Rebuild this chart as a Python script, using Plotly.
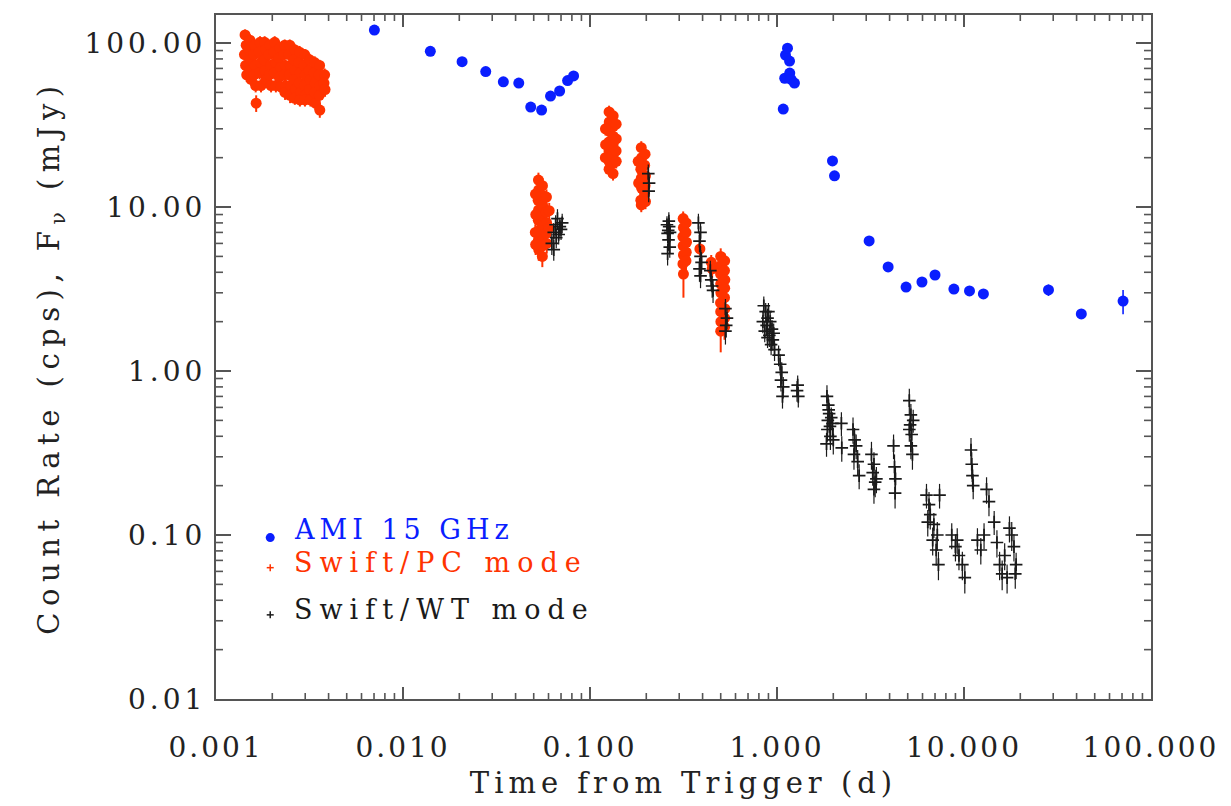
import plotly.graph_objects as go

# ---------------------------------------------------------------------------
# AMI 15 GHz radio light curve: (time since trigger [d], flux density [mJy], 1-sigma error)
ami_points = [
    (0.00703, 120, 3), (0.0140, 89, 2.5), (0.0207, 77, 2), (0.0277, 67, 2),
    (0.0344, 58, 2), (0.0416, 57, 2), (0.0482, 40.7, 1.5), (0.0551, 39, 1.5),
    (0.0615, 47.5, 1.5), (0.0688, 51, 1.5), (0.0759, 59, 2), (0.0817, 63, 2),
    (1.08, 39.6, 1.5), (1.10, 61, 2), (1.11, 84.5, 3), (1.138, 93, 3),
    (1.167, 77.6, 3), (1.17, 65.6, 2), (1.19, 60, 2), (1.24, 57, 2),
    (1.98, 19.1, 0.8), (2.03, 15.5, 0.7), (3.11, 6.21, 0.3), (3.93, 4.31, 0.25),
    (4.90, 3.25, 0.2), (5.96, 3.49, 0.2), (7.0, 3.85, 0.2), (8.83, 3.16, 0.2),
    (10.7, 3.08, 0.2), (12.7, 2.95, 0.2), (28.3, 3.12, 0.25), (42.4, 2.23, 0.15),
    (70.9, 2.67, 0.45),
]

# Swift XRT photon-counting mode: (time [d], count rate [cps], error), one list per orbit
pc_orbit1 = [
    (0.00143, 112, 9), (0.00145, 97, 8), (0.00142, 85, 7), (0.00144, 73, 6), (0.00146, 64, 6),
    (0.00152, 104, 9), (0.00150, 91, 8), (0.00153, 79, 7), (0.00151, 68, 6), (0.00154, 60, 5),
    (0.00161, 97, 8), (0.00159, 85, 7), (0.00162, 73, 6), (0.00160, 64, 6), (0.00163, 55, 5), (0.00164, 43, 5),
    (0.00172, 101, 9), (0.00170, 88, 8), (0.00173, 76, 7), (0.00171, 66, 6), (0.00174, 55, 5),
    (0.00182, 101, 9), (0.00184, 91, 8), (0.00181, 79, 7), (0.00183, 68, 6), (0.00185, 60, 5),
    (0.00194, 97, 8), (0.00192, 85, 7), (0.00196, 73, 6), (0.00193, 64, 6), (0.00197, 55, 5),
    (0.00206, 101, 9), (0.00204, 88, 8), (0.00208, 76, 7), (0.00205, 66, 6), (0.00209, 55, 5),
    (0.00219, 93, 8), (0.00217, 81, 7), (0.00221, 71, 6), (0.00218, 62, 6), (0.00222, 54, 5),
    (0.00233, 97, 8), (0.00231, 85, 7), (0.00235, 73, 6), (0.00232, 64, 6), (0.00236, 55, 5), (0.00234, 50, 5),
    (0.00248, 97, 8), (0.00246, 85, 7), (0.00250, 73, 6), (0.00247, 64, 6), (0.00251, 55, 5), (0.00249, 48, 5),
    (0.00263, 91, 8), (0.00261, 79, 7), (0.00265, 68, 6), (0.00262, 60, 5), (0.00266, 52, 5), (0.00264, 46, 4),
    (0.00280, 88, 8), (0.00278, 76, 7), (0.00282, 66, 6), (0.00279, 57, 5), (0.00283, 50, 5), (0.00281, 45, 4),
    (0.00298, 85, 7), (0.00296, 73, 6), (0.00300, 64, 6), (0.00297, 55, 5), (0.00301, 48, 5), (0.00299, 45, 4),
    (0.00317, 79, 7), (0.00315, 68, 6), (0.00319, 60, 5), (0.00316, 52, 5), (0.00320, 45, 4),
    (0.00337, 76, 7), (0.00335, 66, 6), (0.00339, 57, 5), (0.00336, 50, 5), (0.00340, 43, 4),
    (0.00358, 73, 6), (0.00356, 64, 6), (0.00360, 55, 5), (0.00357, 48, 5), (0.00359, 39, 4),
    (0.00381, 64, 6), (0.00378, 57, 5), (0.00383, 52, 5),
]
pc_orbit2 = [
    (0.0530, 14.6, 1.6), (0.0532, 12.7, 1.4), (0.0528, 11.0, 1.2), (0.0531, 9.6, 1.1),
    (0.0529, 8.3, 1.0), (0.0533, 7.2, 0.9), (0.0530, 6.3, 0.8), (0.0532, 5.5, 0.8),
    (0.0557, 13.5, 1.5), (0.0555, 11.8, 1.3), (0.0558, 10.2, 1.1), (0.0556, 8.9, 1.0),
    (0.0559, 7.7, 0.9), (0.0555, 6.7, 0.8), (0.0557, 5.8, 0.8), (0.0556, 5.0, 0.7),
    (0.0511, 12.0, 1.3), (0.0513, 9.0, 1.0), (0.0510, 7.0, 0.8), (0.0512, 5.9, 0.8),
    (0.0585, 11.5, 1.3), (0.0583, 9.3, 1.0), (0.0586, 8.0, 0.9), (0.0584, 6.9, 0.8),
    (0.0587, 6.0, 0.8), (0.0605, 9.5, 1.1), (0.0603, 7.5, 0.9),
]
pc_orbit3 = [
    (0.1265, 38, 3.5), (0.1268, 33, 3), (0.1263, 29, 2.6), (0.1266, 25, 2.3),
    (0.1264, 22, 2), (0.1267, 19, 1.8), (0.1265, 17, 1.6),
    (0.1330, 36, 3.3), (0.1328, 31, 2.8), (0.1332, 27, 2.5), (0.1329, 24, 2.2),
    (0.1331, 21, 1.9), (0.1330, 18.5, 1.7), (0.1328, 16, 1.5),
    (0.1210, 30, 2.7), (0.1212, 24, 2.2), (0.1208, 20, 1.8),
    (0.1380, 32, 2.9), (0.1382, 26, 2.4), (0.1379, 22, 2), (0.1381, 19, 1.8),
]
pc_orbit4 = [
    (0.188, 23, 2.2), (0.189, 20, 1.9), (0.187, 17, 1.6), (0.188, 15, 1.4),
    (0.189, 13, 1.3), (0.187, 11, 1.1), (0.188, 10.3, 1.0),
    (0.197, 21, 2), (0.196, 18, 1.7), (0.198, 15.5, 1.5), (0.197, 13.5, 1.3),
    (0.196, 12, 1.2), (0.198, 10.8, 1.1), (0.181, 19, 1.8), (0.182, 14, 1.4),
]
pc_orbit5 = [
    (0.315, 8.5, 0.9), (0.316, 7.5, 0.8), (0.314, 6.6, 0.8), (0.315, 5.8, 0.7),
    (0.316, 5.1, 0.7), (0.314, 4.5, 0.6), (0.316, 3.9, 1.1),
    (0.327, 8.0, 0.9), (0.326, 7.0, 0.8), (0.328, 6.1, 0.7), (0.327, 5.3, 0.7), (0.326, 4.7, 0.6),
    (0.387, 5.55, 0.5), (0.445, 4.6, 0.5), (0.450, 4.2, 0.5),
]
pc_orbit6 = [
    (0.500, 5.0, 0.6), (0.501, 4.4, 0.5), (0.499, 3.9, 0.5), (0.500, 3.4, 0.4),
    (0.501, 3.0, 0.4), (0.499, 2.6, 0.35), (0.500, 2.3, 0.3), (0.501, 2.0, 0.3), (0.500, 1.75, 0.45),
    (0.525, 4.7, 0.5), (0.524, 4.1, 0.5), (0.526, 3.6, 0.4), (0.525, 3.2, 0.4),
    (0.524, 2.8, 0.35), (0.526, 2.4, 0.3), (0.525, 2.1, 0.3), (0.524, 1.85, 0.3),
]

# Swift XRT windowed-timing mode: (time [d], count rate [cps], error)
wt_early = [
    (0.0625, 6.0, 0.9), (0.0640, 7.0, 1.0), (0.0655, 7.8, 1.1), (0.0670, 8.5, 1.2),
    (0.0660, 6.5, 0.9), (0.0700, 7.3, 1.0), (0.0640, 5.5, 0.8), (0.0680, 6.8, 0.9),
    (0.0710, 8.0, 1.1), (0.0690, 7.6, 1.0),
    (0.205, 16, 2.2), (0.206, 12.5, 1.8), (0.207, 14, 2.0),
    (0.258, 7.8, 1.0), (0.262, 7.2, 0.9), (0.265, 7.6, 1.0), (0.260, 6.9, 0.9),
    (0.263, 6.3, 0.9), (0.267, 5.7, 0.8), (0.260, 5.2, 0.8), (0.264, 8.2, 1.1), (0.268, 7.0, 0.9),
    (0.380, 8.0, 1.1), (0.390, 7.0, 1.0), (0.385, 6.2, 0.9), (0.390, 5.0, 0.8),
    (0.395, 4.6, 0.7), (0.385, 4.2, 0.7), (0.390, 3.8, 0.6),
    (0.440, 4.1, 0.6), (0.445, 3.6, 0.5), (0.450, 3.3, 0.5), (0.455, 3.1, 0.5),
    (0.530, 2.4, 0.35), (0.540, 2.1, 0.3), (0.535, 1.9, 0.3), (0.530, 1.75, 0.3),
]
wt_day1 = [
    (0.85, 2.5, 0.35), (0.87, 2.3, 0.3), (0.89, 2.1, 0.3), (0.90, 2.3, 0.3), (0.88, 1.9, 0.25),
    (0.92, 2.0, 0.3), (0.86, 1.75, 0.25), (0.91, 1.65, 0.25), (0.94, 1.8, 0.25), (0.95, 1.55, 0.22),
    (0.93, 1.45, 0.2), (0.97, 1.35, 0.2), (0.89, 1.6, 0.22), (0.96, 1.7, 0.25), (0.84, 2.0, 0.3),
    (1.02, 1.25, 0.18), (1.04, 1.1, 0.16), (1.06, 0.98, 0.15), (1.05, 0.88, 0.13),
    (1.08, 0.8, 0.12), (1.07, 0.7, 0.11),
    (1.29, 0.82, 0.12), (1.30, 0.70, 0.1), (1.28, 0.76, 0.11),
]
wt_late = [
    (1.85, 0.70, 0.12), (1.88, 0.62, 0.1), (1.90, 0.55, 0.09), (1.87, 0.50, 0.08),
    (1.92, 0.46, 0.08), (1.89, 0.58, 0.09), (1.95, 0.52, 0.08), (1.86, 0.44, 0.07),
    (1.93, 0.40, 0.07), (1.98, 0.48, 0.08), (2.0, 0.38, 0.07), (1.84, 0.36, 0.06),
    (2.21, 0.48, 0.08), (2.22, 0.34, 0.06),
    (2.55, 0.44, 0.08), (2.60, 0.38, 0.07), (2.65, 0.35, 0.06), (2.58, 0.31, 0.06),
    (2.70, 0.28, 0.05), (2.75, 0.23, 0.04),
    (3.20, 0.31, 0.06), (3.30, 0.27, 0.05), (3.25, 0.24, 0.04), (3.35, 0.21, 0.04),
    (3.30, 0.19, 0.035), (3.40, 0.22, 0.04),
    (4.2, 0.35, 0.06), (4.25, 0.26, 0.05), (4.3, 0.22, 0.04), (4.28, 0.18, 0.035),
    (5.1, 0.66, 0.12), (5.2, 0.54, 0.09), (5.15, 0.47, 0.08), (5.25, 0.41, 0.07),
    (5.2, 0.35, 0.06), (5.3, 0.31, 0.06), (5.1, 0.44, 0.07), (5.35, 0.50, 0.08),
    (6.3, 0.175, 0.03), (6.5, 0.153, 0.03), (6.6, 0.133, 0.025), (6.9, 0.116, 0.02),
    (6.8, 0.093, 0.018), (7.1, 0.081, 0.016), (7.3, 0.066, 0.013), (6.4, 0.12, 0.022),
    (7.4, 0.175, 0.03), (7.2, 0.1, 0.02),
    (8.6, 0.1, 0.018), (9.0, 0.085, 0.016), (9.4, 0.075, 0.014), (9.8, 0.066, 0.013),
    (10.1, 0.055, 0.011), (9.2, 0.093, 0.017),
    (10.9, 0.33, 0.06), (11.0, 0.27, 0.05), (11.1, 0.23, 0.04), (11.2, 0.2, 0.035),
    (13.2, 0.19, 0.035), (13.6, 0.16, 0.03),
    (11.8, 0.093, 0.017), (12.3, 0.081, 0.015), (12.8, 0.1, 0.018),
    (14.5, 0.12, 0.02), (15.5, 0.066, 0.013), (16.0, 0.058, 0.012), (17.0, 0.055, 0.011),
    (18.0, 0.1, 0.02), (18.5, 0.085, 0.016), (16.5, 0.075, 0.014), (19.0, 0.066, 0.012),
    (17.5, 0.11, 0.02), (18.8, 0.058, 0.011), (15.0, 0.09, 0.017),
]

legend_entries = ["AMI 15 GHz", "Swift/PC mode", "Swift/WT mode"]

# ---------------------------------------------------------------------------
BLUE = "#0a1eff"
RED = "#ff3300"
BLACK = "#1a1a1a"
FRAME = "#555555"
FONT = "DejaVu Serif"


def spaced(text, px=3):
    return f'<span style="letter-spacing:{px}px">{text}</span>'


def unpack(*segments):
    t, v, e = [], [], []
    for seg in segments:
        for a, b, c in seg:
            t.append(a)
            v.append(b)
            e.append(c)
    return t, v, e


pc_t, pc_v, pc_e = unpack(pc_orbit1, pc_orbit2, pc_orbit3, pc_orbit4, pc_orbit5, pc_orbit6)
wt_t, wt_v, wt_e = unpack(wt_early, wt_day1, wt_late)
ami_t, ami_v, ami_e = unpack(ami_points)

fig = go.Figure()

fig.add_trace(go.Scatter(
    x=pc_t, y=pc_v, mode="markers", name=legend_entries[1],
    marker=dict(symbol="circle", size=11, color=RED),
    error_y=dict(type="data", array=pc_e, thickness=2, width=0, color=RED),
))
fig.add_trace(go.Scatter(
    x=wt_t, y=wt_v, mode="markers", name=legend_entries[2],
    marker=dict(symbol="cross-thin", size=9, color=BLACK, line=dict(width=1.7, color=BLACK)),
    error_y=dict(type="data", array=wt_e, thickness=1.2, width=0, color=BLACK),
))
fig.add_trace(go.Scatter(
    x=ami_t, y=ami_v, mode="markers", name=legend_entries[0],
    marker=dict(symbol="circle", size=11, color=BLUE),
    error_y=dict(type="data", array=ami_e, thickness=1.6, width=0, color=BLUE),
))

tick_font = dict(family=FONT, size=28, color="#222")
title_font = dict(family=FONT, size=29, color="#222")

frame = dict(
    type="log", showgrid=False, zeroline=False,
    showline=True, linewidth=2, linecolor=FRAME, mirror="ticks",
    ticks="inside", tickwidth=1.8, tickcolor=FRAME,
    tickmode="linear", tick0=0, dtick=1, tickfont=tick_font,
)

fig.update_layout(
    width=1231, height=806,
    margin=dict(l=216, r=76, t=15, b=106),
    paper_bgcolor="white", plot_bgcolor="white",
    showlegend=False,
    xaxis=dict(
        frame, range=[-3, 2], ticklen=12, tickformat=".3f",
        tickprefix='<span style="letter-spacing:3px">', ticksuffix="</span>",
        ticklabelstandoff=22,
        title=dict(text=spaced("Time from Trigger (d)", 5), standoff=10, font=title_font),
    ),
    yaxis=dict(
        frame, range=[-2, 2.171], ticklen=15, tickformat=".2f",
        tickprefix='<span style="letter-spacing:4px">', ticksuffix="</span>",
        ticklabelstandoff=2,
        title=dict(text=spaced("Count Rate (cps), F<sub>ν</sub> (mJy)", 6.5),
                   standoff=16, font=title_font),
    ),
)

# minor ticks (2..9 in each decade) drawn inward on all four sides of the frame
minor_tick = dict(color=FRAME, width=1.6)
for k in range(-3, 2):
    for m in range(2, 10):
        xv = m * 10.0 ** k
        for anchor, y0, y1 in [(0, 0, 6), (1, -6, 0)]:
            fig.add_shape(type="line", xref="x", yref="paper", ysizemode="pixel",
                          yanchor=anchor, x0=xv, x1=xv, y0=y0, y1=y1, line=minor_tick)
for k in range(-2, 3):
    for m in range(2, 10):
        yv = m * 10.0 ** k
        if yv > 10 ** 2.171:
            continue
        for anchor, x0, x1 in [(0, 0, 7), (1, -7, 0)]:
            fig.add_shape(type="line", xref="paper", yref="y", xsizemode="pixel",
                          xanchor=anchor, x0=x0, x1=x1, y0=yv, y1=yv, line=minor_tick)

# in-plot legend: symbol + coloured label
legend_rows = [
    (legend_entries[0], BLUE, 0.248, "dot", 5),
    (legend_entries[1], RED, 0.200, "plus", 7),
    (legend_entries[2], BLACK, 0.131, "plus", 7),
]
for label, color, ypos, sym, gap in legend_rows:
    fig.add_annotation(
        xref="paper", yref="paper", x=0.081, y=ypos, xanchor="left", yanchor="middle",
        text=spaced(label, gap), showarrow=False,
        font=dict(family=FONT, size=27, color=color),
    )
    if sym == "dot":
        fig.add_shape(type="circle", xref="paper", yref="paper",
                      xsizemode="pixel", ysizemode="pixel",
                      xanchor=0.058, yanchor=ypos - 0.012,
                      x0=-4.5, x1=4.5, y0=-4.5, y1=4.5,
                      fillcolor=color, line=dict(width=0))
    else:
        for dx0, dx1, dy0, dy1 in [(-3.5, 3.5, 0, 0), (0, 0, -3.5, 3.5)]:
            fig.add_shape(type="line", xref="paper", yref="paper",
                          xsizemode="pixel", ysizemode="pixel",
                          xanchor=0.058, yanchor=ypos - 0.008,
                          x0=dx0, x1=dx1, y0=dy0, y1=dy1,
                          line=dict(color=color, width=1.5))

fig.write_html("out.html")
